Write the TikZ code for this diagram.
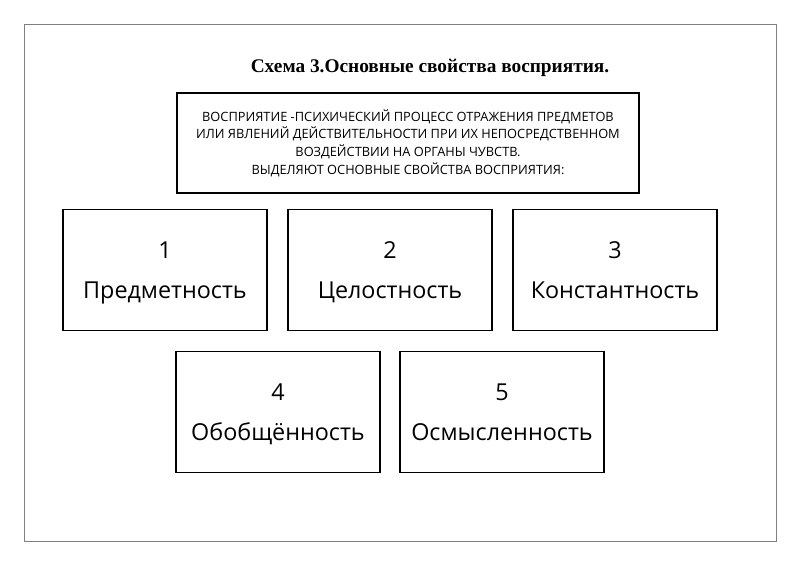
\documentclass[tikz,border=0pt]{standalone}
\usepackage{fontspec}
\setmainfont{Open Sans}
\newfontfamily\titlefont{Liberation Serif}
\usetikzlibrary{positioning}
\tikzset{
	prop/.style={draw,thick,minimum width=153pt,minimum height=90.75pt,align=center,font=\fontsize{17.5}{30}\selectfont},
}
\begin{document}
\begin{tikzpicture}[x=0.75pt,y=-0.75pt]
	\useasboundingbox (0,0) rectangle (800,565);
	\draw[gray] (24,24) rectangle (776,541);
	
	% titre
	\node[font=\titlefont\bfseries\fontsize{14.5}{16}\selectfont] (title) at (430,68) {Схема 3.Основные свойства восприятия.};
	
	\node[draw,thick,minimum width=346.5pt,minimum height=75pt,align=center,font=\fontsize{9.6}{13.2}\selectfont] (def) at (408,143)
	{ВОСПРИЯТИЕ -ПСИХИЧЕСКИЙ ПРОЦЕСС ОТРАЖЕНИЯ ПРЕДМЕТОВ\\ИЛИ ЯВЛЕНИЙ ДЕЙСТВИТЕЛЬНОСТИ ПРИ ИХ НЕПОСРЕДСТВЕННОМ\\ВОЗДЕЙСТВИИ НА ОРГАНЫ ЧУВСТВ.\\ВЫДЕЛЯЮТ ОСНОВНЫЕ СВОЙСТВА ВОСПРИЯТИЯ:};
	
	% свойства
	\node[prop] (p1) at (165,270) {1\strut\\Предметность\strut};
	\node[prop] (p2) at (390,270) {2\strut\\Целостность\strut};
	\node[prop] (p3) at (615,270) {3\strut\\Константность\strut};
	\node[prop] (p4) at (278,412) {4\strut\\Обобщённость\strut};
	\node[prop] (p5) at (502,412) {5\strut\\Осмысленность\strut};
\end{tikzpicture}
\end{document}
